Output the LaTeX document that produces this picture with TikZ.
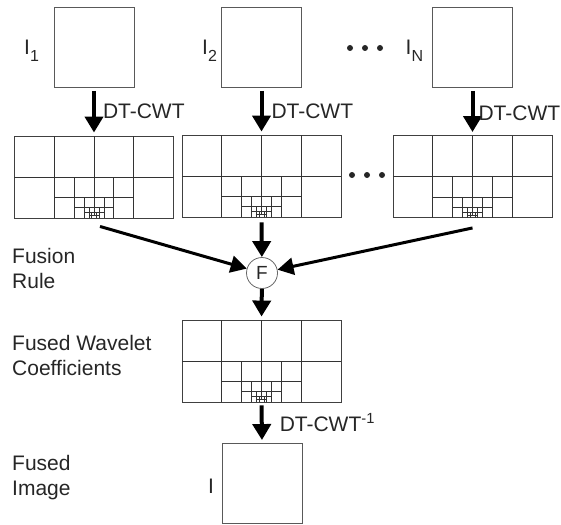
\documentclass[tikz,border=0pt]{standalone}
\usepackage{fontspec}
\setmainfont{Liberation Sans}
\usetikzlibrary{arrows.meta}
\newcommand{\sub}[1]{\raisebox{-7pt}{\fontsize{16}{16}\selectfont #1}}

\begin{document}
\begin{tikzpicture}[x=1pt, y=-1pt,
  every node/.style={font=\fontsize{21}{25}\selectfont, text=black!85, inner sep=0pt},
  image/.style={draw=black!65, line width=0.9pt, minimum width=80pt, minimum height=80pt},
  wavelet/.style={draw=black!75, line width=0.9pt, minimum width=159pt, minimum height=82pt},
  grid/.style={draw=black!80, line width=0.8pt},
  flow/.style={-{Triangle[length=16pt,width=18pt]}, line width=4pt, shorten <=3pt, shorten >=3pt},
  fuse/.style={-{Triangle[length=16pt,width=17pt]}, line width=3pt}]
\useasboundingbox (0,0) rectangle (561,524);
% input images
\path (94, 47.5) node[image] (img1) {};
\path (261.5, 47.5) node[image] (img2) {};
\path (472.5, 47.5) node[image] (imgn) {};
\path (24, 55) node[anchor=base west] (lbl1) {I\sub{1}};
\path (202, 55) node[anchor=base west] (lbl2) {I\sub{2}};
\path (405.5, 55) node[anchor=base west] (lbln) {I\sub{N}};
\foreach \x in {350,365,380} \fill[black!85] (\x,48) circle (3pt);
% wavelet coefficients
\path (94, 177) node[wavelet] (w1) {};
\path (261.5, 176) node[wavelet] (w2) {};
\path (472.5, 176.5) node[wavelet] (wn) {};
\path (261.5, 361) node[wavelet] (wf) {};
\foreach \x in {352,367,382} \fill[black!85] (\x,175) circle (3pt);
\foreach \w in {w1,w2,wn,wf} {
  \begin{scope}[shift={(\w.center)}, xscale=0.994, yscale=1.025]
    \foreach \a/\t in {80/-40,40/0,20/20,10/30,5/35}
      \draw[grid] (-\a,{(\t+40)/2}) -- (\a,{(\t+40)/2})
        (-\a/2,\t) -- (-\a/2,40) (\a/2,\t) -- (\a/2,40)
        (0,\t) -- (0,{(\t+40)/2});
  \end{scope}
}
% fusion
\path (262, 273) node[circle, draw=black!60, line width=0.8pt, minimum size=31pt, font=\fontsize{19}{19}\selectfont] (fuse) {F};
\path (262, 483.5) node[image] (imgf) {};
\path (208, 493) node[anchor=base west] (lblf) {I};
% side labels
\path (12, 288) node[anchor=base west, align=left] (rulelbl) {Fusion\\Rule};
\path (12, 375) node[anchor=base west, align=left] (coeflbl) {Fused Wavelet\\Coefficients};
\path (12, 495) node[anchor=base west, align=left] (fusedlbl) {Fused\\Image};
% arrows
\draw[flow] (img1.south) -- node[right=7pt] {DT-CWT} (w1.north);
\draw[flow] (img2.south) -- node[right=8pt] {DT-CWT} (w2.north);
\draw[flow] (imgn.south) -- node[right=4pt, yshift=-2pt] {DT-CWT} (wn.north);
\draw[fuse] ([shift={(6,8)}]w1.south) -- (fuse);
\draw[fuse] ([shift={(0,10)}]wn.south) -- (fuse);
\draw[flow, shorten <=5pt, shorten >=0pt] (w2.south) -- (fuse);
\draw[flow, shorten <=0pt] (fuse) -- (wf.north);
\draw[flow] (wf.south) -- node[right=16pt] {DT-CWT\textsuperscript{-1}} (imgf.north);
\end{tikzpicture}
\end{document}
